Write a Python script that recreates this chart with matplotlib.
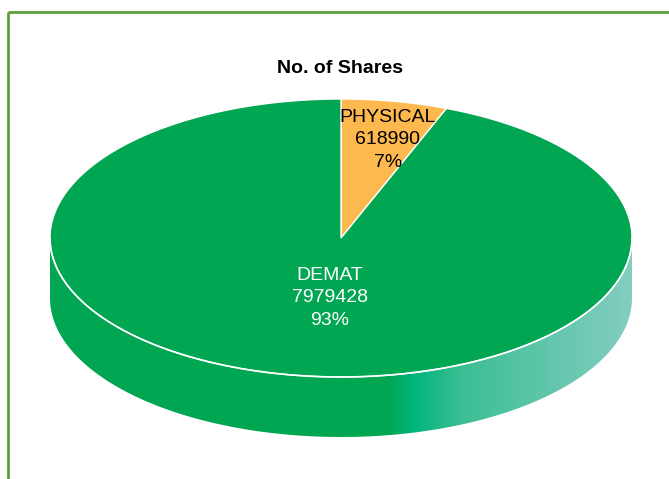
import numpy as np
import matplotlib
matplotlib.use('Agg')
import matplotlib.pyplot as plt
from matplotlib.patches import Polygon
from matplotlib.colors import LinearSegmentedColormap

# data
labels = ['PHYSICAL', 'DEMAT']
values = [618990, 7979428]
slice_colors = ['#FDB94E', '#00A651']
text_colors = ['black', 'white']
title = 'No. of Shares'

W, H = 669, 479
cx, cy = 341, 238      # top ellipse centre (pixels)
a, b = 291, 139        # semi axes
depth = 60             # thickness of the pie

plt.rcParams['font.family'] = ['Liberation Sans', 'DejaVu Sans']

fig = plt.figure(figsize=(W / 100, H / 100), dpi=100)
ax = fig.add_axes([0, 0, 1, 1])
ax.set_xlim(0, W)
ax.set_ylim(H, 0)
ax.axis('off')


def ell(theta, dy=0.0):
    t = np.radians(theta)
    return np.column_stack([cx + a * np.cos(t), cy + dy - b * np.sin(t)])


def persp(phi):
    # squeeze angles toward the back of the pie a little (perspective look)
    t = np.radians(phi)
    return np.degrees(np.arctan2(np.sin(t) * 1.25, np.cos(t)))


# side wall (front half only)
th = np.linspace(180, 360, 200)
side = np.vstack([ell(th), ell(th[::-1], depth)])
side_patch = Polygon(side, closed=True, facecolor='none', edgecolor='none')
ax.add_patch(side_patch)

grad = LinearSegmentedColormap.from_list('side', [
    (0.0, '#00A651'), (0.58, '#00A651'), (0.625, '#00B47C'),
    (0.71, '#3DBE95'), (1.0, '#82CEC0')])
img = ax.imshow(np.tile(np.linspace(0, 1, 400), (10, 1)), cmap=grad,
                extent=[cx - a, cx + a, cy + b + depth, cy], aspect='auto',
                interpolation='bilinear', zorder=1)
img.set_clip_path(side_patch)

# top face
total = sum(values)
start = 90.0
for i, v in enumerate(values):
    sweep = 360.0 * v / total
    t = persp(np.linspace(start, start - sweep, 300))
    t = np.degrees(np.unwrap(np.radians(t)))
    pts = np.vstack([[cx, cy], ell(t)])
    ax.add_patch(Polygon(pts, closed=True, facecolor=slice_colors[i],
                         edgecolor='white', linewidth=1.0, zorder=2))
    start -= sweep

# thin white rim between top and side
rim = ell(np.linspace(180, 360, 200))
ax.plot(rim[:, 0], rim[:, 1], color='white', lw=1.2, zorder=3)

# data labels
label_pos = [(388, 140), (330, 298)]
for i, v in enumerate(values):
    pct = round(100.0 * v / total)
    ax.text(label_pos[i][0], label_pos[i][1], f'{labels[i]}\n{v}\n{pct}%',
            ha='center', va='center', fontsize=14, color=text_colors[i],
            linespacing=1.45, zorder=4)

ax.text(340, 68, title, ha='center', va='center', fontsize=14,
        fontweight='bold', color='black')

# chart border (green)
ax.plot([8, 8], [H, 12], color='#5E9C3A', lw=2, solid_capstyle='butt')
ax.plot([8, W], [12, 12], color='#5E9C3A', lw=2, solid_capstyle='butt')

fig.savefig('out.png', dpi=100)
